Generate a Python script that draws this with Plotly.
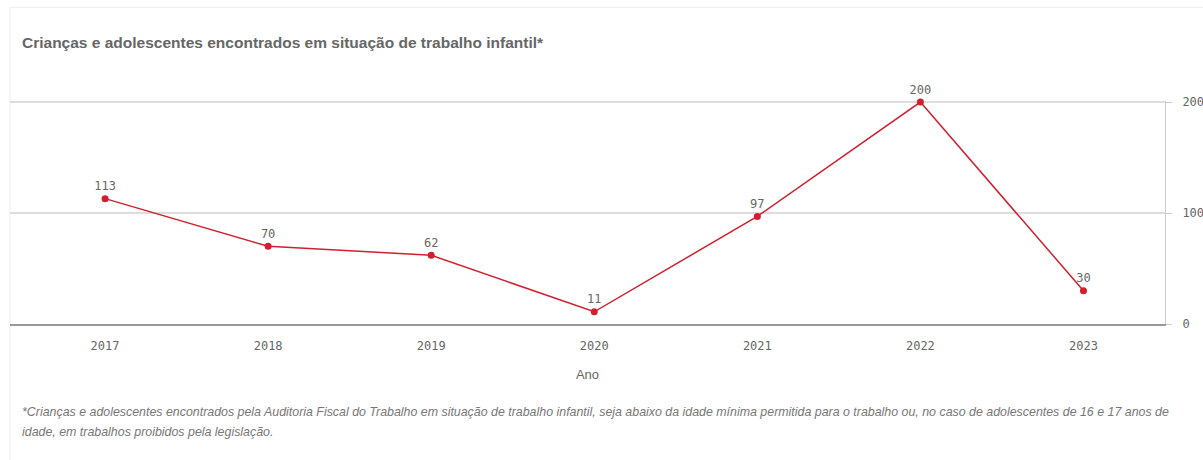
import plotly.graph_objects as go

anos = ["2017", "2018", "2019", "2020", "2021", "2022", "2023"]
valores = [113, 70, 62, 11, 97, 200, 30]
y_ticks = [0, 100, 200]

titulo = "Crianças e adolescentes encontrados em situação de trabalho infantil*"
nota_l1 = ("*Crianças e adolescentes encontrados pela Auditoria Fiscal do Trabalho em situação de trabalho infantil, "
           "seja abaixo da idade mínima permitida para o trabalho ou, no caso de adolescentes de 16 e 17 anos de")
nota_l2 = "idade, em trabalhos proibidos pela legislação."

red = "#d0202f"
mono = "DejaVu Sans Mono"

fig = go.Figure()
fig.add_trace(go.Scatter(
    x=anos, y=valores, mode="lines+markers+text",
    line=dict(color=red, width=1.5),
    marker=dict(color=red, size=7),
    text=[str(v) for v in valores], textposition="top center",
    textfont=dict(family=mono, size=12, color="#666"),
    cliponaxis=False, showlegend=False, hoverinfo="skip",
))

fig.update_layout(
    width=1203, height=460,
    paper_bgcolor="white", plot_bgcolor="white",
    margin=dict(l=10, r=38, t=101, b=136),
    xaxis=dict(
        type="category", range=[-0.583, 6.5], automargin=False,
        showgrid=False, showline=True, linecolor="#999", linewidth=1.5,
        ticks="", tickfont=dict(family=mono, size=12, color="#666"),
        ticklabelstandoff=10,
        title=dict(text="Ano", font=dict(family="Liberation Sans", size=13, color="#666"), standoff=18),
        zeroline=False,
    ),
    yaxis=dict(
        side="right", range=[0, 201], tickvals=y_ticks, automargin=False,
        showgrid=True, gridcolor="#dddddd", gridwidth=2,
        showline=True, linecolor="#cccccc", linewidth=1,
        ticks="outside", ticklen=6, tickcolor="#cccccc",
        ticklabelstandoff=8,
        tickfont=dict(family=mono, size=12, color="#666"),
        zeroline=False,
    ),
    font=dict(family="Liberation Sans"),
    annotations=[
        dict(text="<b>" + titulo + "</b>", xref="paper", yref="paper", x=0, y=1, xanchor="left",
             yanchor="middle", xshift=10, yshift=59, showarrow=False,
             font=dict(family="Liberation Sans", size=15.5, color="#666")),
        dict(text="<i>" + nota_l1 + "</i>", xref="paper", yref="paper", x=0, y=0, xanchor="left",
             yanchor="middle", xshift=10, yshift=-88, showarrow=False,
             font=dict(family="Liberation Sans", size=12.4, color="#777")),
        dict(text="<i>" + nota_l2 + "</i>", xref="paper", yref="paper", x=0, y=0, xanchor="left",
             yanchor="middle", xshift=10, yshift=-108, showarrow=False,
             font=dict(family="Liberation Sans", size=12.4, color="#777")),
    ],
    shapes=[dict(type="rect", xref="paper", yref="paper", x0=-0.0, x1=1.1, y0=-0.7, y1=1.42,
                 line=dict(color="#eeeeee", width=1), layer="below")],
)

fig.write_html("out.html")
